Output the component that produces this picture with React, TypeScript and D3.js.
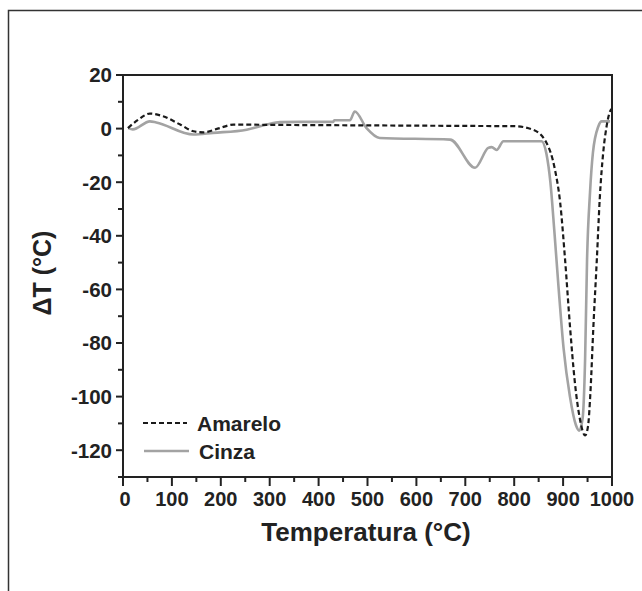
import React from "react";
import * as d3 from "d3";

const amareloT = [10, 31, 55, 82, 117, 144, 164, 198, 226, 300, 500, 700, 800, 838, 866, 883, 894, 904, 914, 924, 934, 945, 951, 956, 962, 969, 975, 982, 989, 996, 1000];
const amareloV = [0.2, 3.3, 5.6, 4.6, 1.5, -1.0, -1.4, 0.2, 1.5, 1.4, 1.2, 1.0, 0.9, -0.4, -5.3, -15, -27.6, -48.8, -73.6, -94.6, -108, -114.5, -111, -98, -73.6, -48.8, -26, -9, 0.9, 6.4, 7.5];

const cinzaT = [11, 20, 55, 68, 144, 184, 253, 294, 321, 362, 430, 432, 464, 474, 498, 525, 669, 720, 747, 754, 764, 778, 856, 866, 874, 882, 891, 901, 914, 926, 933, 940, 945, 949, 955, 961, 972, 979, 996];
const cinzaV = [0.2, -0.3, 2.7, 2.3, -2.2, -1.6, -0.4, 1.5, 2.4, 2.5, 2.5, 3.1, 3.1, 6.4, 0.2, -3.5, -4.1, -14.6, -7.2, -6.9, -8.0, -4.7, -4.7, -9.5, -20, -38, -60, -82, -100, -110.5, -112.7, -108, -86, -48.8, -24, -9, 0.8, 2.7, 2.7];

const xTicks = [0, 100, 200, 300, 400, 500, 600, 700, 800, 900, 1000];
const yTicks = [20, 0, -20, -40, -60, -80, -100, -120];
const xMinor = [50, 150, 250, 350, 450, 550, 650, 750, 850, 950];
const yMinor = [10, -10, -30, -50, -70, -90, -110, -130];

const seriesNames = ["Amarelo", "Cinza"];

const FONT = "'Liberation Sans', Arial, sans-serif";

export default function App() {
  const left = 123, right = 612, top = 75, bottom = 477;
  const x = d3.scaleLinear().domain([0, 1000]).range([left, right]);
  const y = d3.scaleLinear().domain([-130, 20]).range([bottom, top]);
  const line = d3
    .line<[number, number]>()
    .x((d) => x(d[0]))
    .y((d) => y(d[1]))
    .curve(d3.curveMonotoneX);
  const aData = amareloT.map((t, i) => [t, amareloV[i]] as [number, number]);
  const cData = cinzaT.map((t, i) => [t, cinzaV[i]] as [number, number]);
  const axisColor = "#222";

  return (
    <svg width={642} height={591} style={{ position: "absolute", left: 0, top: 0, background: "#fff" }}>
      <rect x={0} y={0} width={642} height={591} fill="#fff" />
      <path d="M8.5,600 L8.5,10.5 L660,10.5" fill="none" stroke="#333" strokeWidth={1.5} />
      <path d={line(cData) || ""} fill="none" stroke="#a3a3a3" strokeWidth={2.6} />
      <path d={line(aData) || ""} fill="none" stroke="#1a1a1a" strokeWidth={2.2} strokeDasharray="5,3" />
      {/* frame */}
      <rect x={left} y={top} width={right - left} height={bottom - top} fill="none" stroke={axisColor} strokeWidth={2} />
      {/* y ticks */}
      {yTicks.map((v) => (
        <g key={"y" + v}>
          <line x1={left - 7} x2={left} y1={y(v)} y2={y(v)} stroke={axisColor} strokeWidth={2} />
          <text x={left - 11} y={y(v)} dy="0.36em" textAnchor="end" fontFamily={FONT} fontWeight="bold" fontSize={20.5} fill="#222">
            {v}
          </text>
        </g>
      ))}
      {yMinor.map((v) => (
        <line key={"ym" + v} x1={left - 5} x2={left} y1={y(v)} y2={y(v)} stroke={axisColor} strokeWidth={2} />
      ))}
      {/* x ticks */}
      {xTicks.map((v) => (
        <g key={"x" + v}>
          <line x1={x(v)} x2={x(v)} y1={bottom} y2={bottom + 9} stroke={axisColor} strokeWidth={2} />
          <text x={x(v) + (v === 0 ? 2 : 0)} y={bottom + 29} textAnchor="middle" fontFamily={FONT} fontWeight="bold" fontSize={20} fill="#222">
            {v}
          </text>
        </g>
      ))}
      {xMinor.map((v) => (
        <line key={"xm" + v} x1={x(v)} x2={x(v)} y1={bottom} y2={bottom + 5} stroke={axisColor} strokeWidth={2} />
      ))}
      {/* axis titles */}
      <text x={366} y={541} textAnchor="middle" fontFamily={FONT} fontWeight="bold" fontSize={26} fill="#222">
        Temperatura (°C)
      </text>
      <text transform={`translate(51,273) rotate(-90)`} textAnchor="middle" fontFamily={FONT} fontWeight="bold" fontSize={25} fill="#222">
        ΔT (°C)
      </text>
      {/* legend */}
      <line x1={143} x2={187} y1={423} y2={423} stroke="#1a1a1a" strokeWidth={2.2} strokeDasharray="5,3" />
      <text x={197} y={423} dy="0.36em" fontFamily={FONT} fontWeight="bold" fontSize={21} fill="#222">
        {seriesNames[0]}
      </text>
      <line x1={144} x2={189} y1={451} y2={451} stroke="#a3a3a3" strokeWidth={2.6} />
      <text x={199} y={451} dy="0.36em" fontFamily={FONT} fontWeight="bold" fontSize={21} fill="#222">
        {seriesNames[1]}
      </text>
    </svg>
  );
}
